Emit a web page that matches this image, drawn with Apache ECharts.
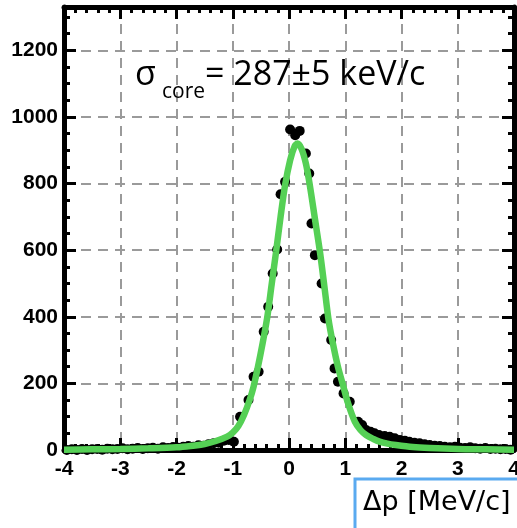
<!DOCTYPE html>
<html>
<head>
<meta charset="utf-8">
<script src="https://cdn.jsdelivr.net/npm/echarts@6/dist/echarts.min.js"></script>
<style>
  html, body { margin: 0; padding: 0; background: #fff; }
  #chart { width: 517px; height: 528px; }
</style>
</head>
<body>
<div id="chart"></div>
<script>
// Momentum residual histogram (counts per bin) and the fitted core+tail curve.
const dpPoints = [
  -3.95, -3.86, -3.77, -3.68, -3.59, -3.50, -3.41, -3.32, -3.23, -3.14,
  -3.05, -2.96, -2.87, -2.78, -2.69, -2.60, -2.51, -2.42, -2.33, -2.24,
  -2.15, -2.06, -1.97, -1.88, -1.79, -1.70, -1.61, -1.52, -1.43, -1.34,
  -1.25, -1.16, -1.07, -0.98, -0.87, -0.72, -0.63, -0.54, -0.45, -0.37,
  -0.29, -0.21, -0.15, -0.07, 0.02, 0.11, 0.19, 0.30, 0.36, 0.40,
  0.46, 0.58, 0.64, 0.75, 0.81, 0.87, 0.97, 1.08, 1.23, 1.30,
  1.37, 1.45, 1.52, 1.60, 1.70, 1.79, 1.88, 1.97, 2.06, 2.14,
  2.23, 2.32, 2.41, 2.50, 2.59, 2.68, 2.77, 2.86, 2.95, 3.04,
  3.13, 3.22, 3.31, 3.40, 3.49, 3.58, 3.67, 3.76, 3.85, 3.94
];
const counts = [
  0, 2, 0, 3, 0, 2, 3, 1, 4, 2,
  3, 5, 2, 4, 6, 3, 5, 7, 4, 8,
  6, 9, 7, 10, 12, 10, 14, 13, 17, 20,
  22, 28, 30, 25, 100, 150, 220, 235, 355, 430,
  530, 602, 768, 805, 962, 945, 958, 890, 830, 680,
  585, 500, 395, 330, 245, 205, 170, 145, 85, 75,
  60, 55, 50, 45, 42, 40, 35, 30, 28, 25,
  22, 20, 17, 15, 13, 12, 10, 8, 10, 7,
  6, 8, 5, 4, 6, 3, 4, 2, 3, 1
];

// Fitted curve sampled along the momentum axis.
const fitDp = [
  -4.0, -3.5, -3.0, -2.5, -2.0, -1.75, -1.5, -1.3, -1.1, -1.0,
  -0.9, -0.8, -0.7, -0.63, -0.51, -0.39, -0.31, -0.23, -0.15, -0.07,
  0.02, 0.10, 0.15, 0.22, 0.30, 0.37, 0.46, 0.55, 0.63, 0.70,
  0.78, 0.87, 0.96, 1.05, 1.17, 1.27, 1.37, 1.5, 1.61, 1.75,
  1.9, 2.2, 2.5, 3.0, 3.5, 4.0
];
const fitCounts = [
  1, 2, 3, 5, 8, 12, 18, 27, 40, 52,
  72, 105, 150, 190, 285, 395, 495, 595, 700, 795,
  870, 912, 920, 905, 860, 795, 695, 595, 490, 395,
  320, 250, 195, 140, 85, 60, 45, 33, 25, 19,
  15, 9, 6, 3, 2, 1
];

const xTicks = { min: -4, max: 4, major: 1, minor: 0.2 };
const yTicks = { min: 0, max: 1330, major: 200, minor: 50 };
const annotation = { sigma: 'σ', sub: 'core', rest: '= 287±5 keV/c' };
const xTitle = 'Δp [MeV/c]';

const pairs = (xs, ys) => xs.map((x, i) => [x, ys[i]]);

const tickFont = { fontFamily: '"Liberation Sans", Arial, sans-serif', fontWeight: 'bold', fontSize: 21, color: '#000' };
const blackLine = { color: '#000', width: 5 };
const gridLine = { show: true, lineStyle: { color: '#9a9a9a', width: 2, type: [10, 7] } };

function xAxisDef(pos, minor, labels) {
  return {
    type: 'value', position: pos, min: xTicks.min, max: xTicks.max,
    interval: minor ? xTicks.minor : xTicks.major,
    axisLine: { show: !minor, onZero: false, lineStyle: blackLine },
    axisTick: { show: true, inside: true, length: minor ? 6 : 12, lineStyle: { color: '#000', width: 3 } },
    axisLabel: labels ? Object.assign({ show: true, margin: 9, formatter: v => String(v) }, tickFont) : { show: false },
    splitLine: (!minor && labels) ? gridLine : { show: false }
  };
}
function yAxisDef(pos, minor, labels) {
  return {
    type: 'value', position: pos, min: yTicks.min, max: yTicks.max,
    interval: minor ? yTicks.minor : yTicks.major,
    axisLine: { show: !minor, onZero: false, lineStyle: blackLine },
    axisTick: { show: true, inside: true, length: minor ? 6 : 12, lineStyle: { color: '#000', width: 3 } },
    axisLabel: labels ? Object.assign({ show: true, margin: 6, showMaxLabel: false, formatter: v => String(v) }, tickFont) : { show: false },
    splitLine: (!minor && labels) ? gridLine : { show: false }
  };
}

const chart = echarts.init(document.getElementById('chart'), null, { renderer: 'canvas' });
chart.setOption({
  animation: false,
  backgroundColor: '#fff',
  grid: { left: 64, right: 3, top: 7, bottom: 78, containLabel: false, outerBoundsMode: 'none' },
  xAxis: [
    xAxisDef('bottom', false, true),
    xAxisDef('top', false, false),
    xAxisDef('bottom', true, false),
    xAxisDef('top', true, false)
  ],
  yAxis: [
    yAxisDef('left', false, true),
    yAxisDef('right', false, false),
    yAxisDef('left', true, false),
    yAxisDef('right', true, false)
  ],
  series: [
    {
      type: 'scatter', xAxisIndex: 0, yAxisIndex: 0,
      data: pairs(dpPoints, counts),
      symbol: 'circle', symbolSize: 10,
      itemStyle: { color: '#000', opacity: 1 }, z: 3
    },
    {
      type: 'line', xAxisIndex: 0, yAxisIndex: 0,
      data: pairs(fitDp, fitCounts),
      smooth: 0.3, showSymbol: false,
      lineStyle: { color: '#55d055', width: 6.5 }, z: 4
    }
  ],
  graphic: [
    { type: 'text', left: 135, top: 58, z: 10,
      style: { text: annotation.sigma, font: '34px "Open Sans", sans-serif', fill: '#000' } },
    { type: 'text', left: 162, top: 82, z: 10,
      style: { text: annotation.sub, font: '21px "Open Sans", sans-serif', fill: '#000' } },
    { type: 'text', left: 205, top: 58, z: 10,
      style: { text: annotation.rest, font: '34px "Open Sans", sans-serif', fill: '#000' } },
    { type: 'rect', shape: { x: 355, y: 479, width: 175, height: 60 }, z: 10,
      style: { fill: '#fff', stroke: '#5aaaf0', lineWidth: 3 } },
    { type: 'text', left: 363, top: 489, z: 11,
      style: { text: xTitle, font: '27px "DejaVu Sans", sans-serif', fill: '#000' } }
  ]
});
</script>
</body>
</html>
